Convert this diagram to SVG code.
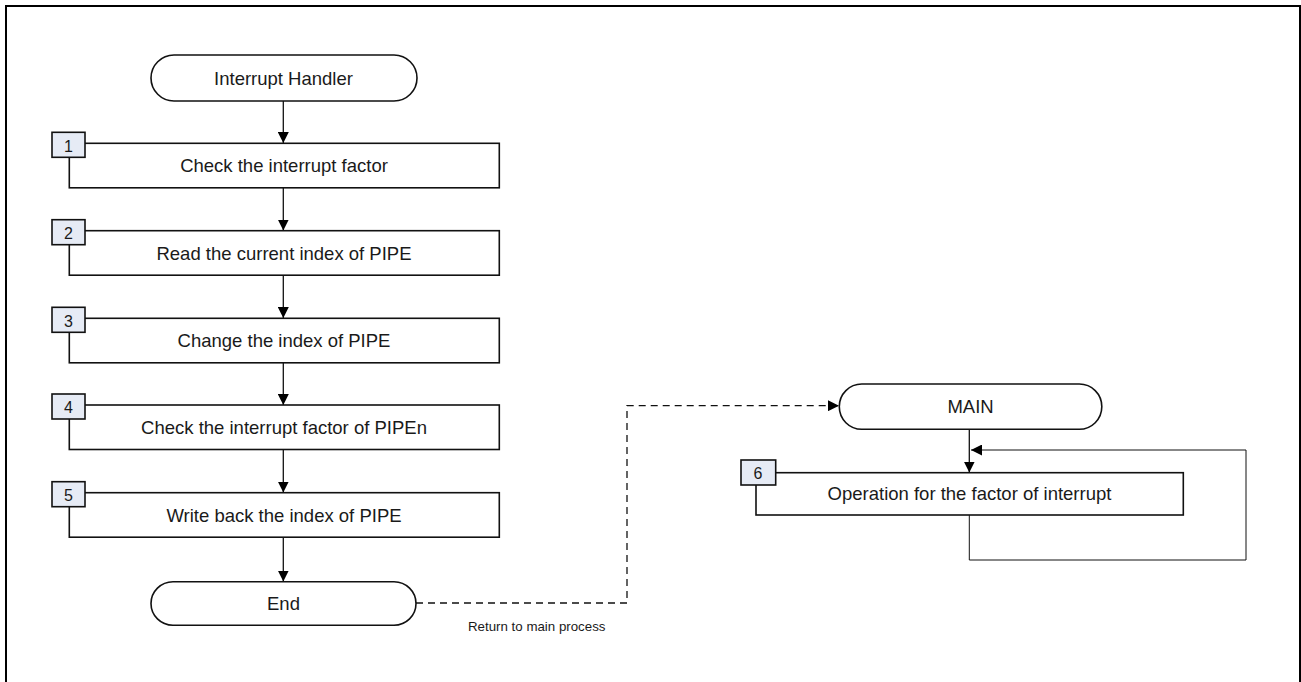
<svg xmlns="http://www.w3.org/2000/svg" width="1301" height="682" viewBox="0 0 1301 682">
<style>
.frame{fill:none;stroke:#000;stroke-width:2}
.term{fill:#fff;stroke:#111;stroke-width:1.6}
.box{fill:#fff;stroke:#111;stroke-width:1.6}
.tag{fill:#e6ebf5;stroke:#111;stroke-width:1.6}
.t{font-family:"Liberation Sans",Arial,sans-serif;font-size:18.5px;fill:#1a1a1a;text-anchor:middle}
.n{font-family:"Liberation Sans",Arial,sans-serif;font-size:16px;fill:#1a1a1a;text-anchor:middle}
.s{font-family:"Liberation Sans",Arial,sans-serif;font-size:13.3px;fill:#1a1a1a}
.c{fill:none;stroke:#111;stroke-width:1.3}
.d{fill:none;stroke:#111;stroke-width:1.3;stroke-dasharray:7 5}
.l{fill:none;stroke:#111;stroke-width:1}
</style>
<defs>
<marker id="ah" viewBox="0 0 10 10" refX="10" refY="5" markerWidth="11" markerHeight="11" markerUnits="userSpaceOnUse" orient="auto">
<path d="M0,0 L10,5 L0,10 z" fill="#000"/>
</marker>
</defs>
<rect class="frame" x="6" y="6" width="1294" height="700"/>
<g id="connectors">
<line class="c" x1="283.3" y1="101" x2="283.3" y2="143" marker-end="url(#ah)"/>
<line class="c" x1="283.3" y1="188" x2="283.3" y2="230.5" marker-end="url(#ah)"/>
<line class="c" x1="283.3" y1="275.5" x2="283.3" y2="318" marker-end="url(#ah)"/>
<line class="c" x1="283.3" y1="363" x2="283.3" y2="405" marker-end="url(#ah)"/>
<line class="c" x1="283.3" y1="450" x2="283.3" y2="492.5" marker-end="url(#ah)"/>
<line class="c" x1="283.3" y1="537.5" x2="283.3" y2="581.5" marker-end="url(#ah)"/>
<path class="d" d="M416,603 H627 V405.7 H839" marker-end="url(#ah)"/>
<line class="c" x1="969.3" y1="429.5" x2="969.3" y2="472.5" marker-end="url(#ah)"/>
<path class="l" d="M969.3,515 V560 H1246 V450 H971" marker-end="url(#ah)"/>
<text class="s" x="468" y="631">Return to main process</text>
</g>
<g id="start">
<rect class="term" x="151" y="55" width="266" height="46" rx="23" ry="23"/>
<text class="t" x="283.5" y="84.6">Interrupt Handler</text>
</g>
<g id="step1">
<rect class="box" x="69.3" y="143.3" width="430" height="44.5"/>
<rect class="tag" x="52" y="132.3" width="33" height="25"/>
<text class="n" x="68.5" y="151.5">1</text>
<text class="t" x="284" y="172.2">Check the interrupt factor</text>
</g>
<g id="step2">
<rect class="box" x="69.3" y="230.7" width="430" height="44.5"/>
<rect class="tag" x="52" y="219.7" width="33" height="25"/>
<text class="n" x="68.5" y="238.9">2</text>
<text class="t" x="284" y="259.6">Read the current index of PIPE</text>
</g>
<g id="step3">
<rect class="box" x="69.3" y="318.3" width="430" height="44.5"/>
<rect class="tag" x="52" y="307.3" width="33" height="25"/>
<text class="n" x="68.5" y="326.5">3</text>
<text class="t" x="284" y="347.2">Change the index of PIPE</text>
</g>
<g id="step4">
<rect class="box" x="69.3" y="405" width="430" height="44.5"/>
<rect class="tag" x="52" y="394" width="33" height="25"/>
<text class="n" x="68.5" y="413.2">4</text>
<text class="t" x="284" y="433.9">Check the interrupt factor of PIPEn</text>
</g>
<g id="step5">
<rect class="box" x="69.3" y="492.7" width="430" height="44.5"/>
<rect class="tag" x="52" y="481.7" width="33" height="25"/>
<text class="n" x="68.5" y="500.9">5</text>
<text class="t" x="284" y="521.6">Write back the index of PIPE</text>
</g>
<g id="end">
<rect class="term" x="151" y="581.7" width="265" height="43.5" rx="22" ry="22"/>
<text class="t" x="283.5" y="610.4">End</text>
</g>
<g id="main">
<rect class="term" x="839.3" y="384" width="262.5" height="45.3" rx="22.5" ry="22.5"/>
<text class="t" x="970.5" y="413.2">MAIN</text>
</g>
<g id="step6">
<rect class="box" x="756" y="472.7" width="427.3" height="42.3"/>
<rect class="tag" x="741" y="460" width="34.7" height="25"/>
<text class="n" x="758" y="479.2">6</text>
<text class="t" x="969.5" y="500.4">Operation for the factor of interrupt</text>
</g>
</svg>
